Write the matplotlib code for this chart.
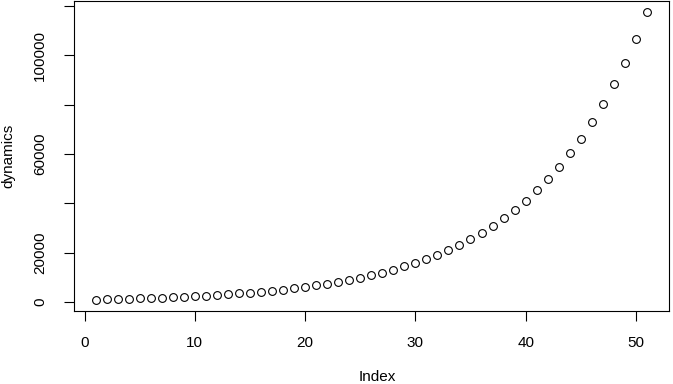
import matplotlib
matplotlib.use("Agg")
import matplotlib.pyplot as plt

index = list(range(1, 52))
dynamics = [1000, 1100, 1210, 1331, 1464, 1611, 1772, 1949, 2144, 2358,
            2594, 2853, 3138, 3452, 3797, 4177, 4595, 5054, 5560, 6116,
            6727, 7400, 8140, 8954, 9850, 10835, 11918, 13110, 14421, 15863,
            17449, 19194, 21114, 23225, 25548, 28102, 30913, 34004, 37404, 41145,
            45259, 49785, 54764, 60240, 66264, 72890, 80180, 88197, 97017, 106719,
            117391]
x_ticks = [0, 10, 20, 30, 40, 50]
y_ticks = [0, 20000, 40000, 60000, 80000, 100000, 120000]
y_tick_labels = ["0", "20000", "", "60000", "", "100000", ""]

plt.rcParams['font.family'] = ['Liberation Sans', 'DejaVu Sans']

W, H = 673, 384
fig = plt.figure(figsize=(W / 100, H / 100), dpi=100)
ax = fig.add_axes([73.5 / W, 1 - 311 / H, (669 - 73.5) / W, (311 - 1) / H])

ax.plot(index, dynamics, linestyle='none', marker='o', markersize=5.6,
        markerfacecolor='none', markeredgecolor='black', markeredgewidth=0.8)

xr = max(index) - min(index)
ax.set_xlim(min(index) - 0.04 * xr, max(index) + 0.04 * xr)
yr = max(dynamics) - min(dynamics)
ax.set_ylim(min(dynamics) - 0.04 * yr, max(dynamics) + 0.04 * yr)

ax.set_xticks(x_ticks)
ax.set_xticklabels([str(t) for t in x_ticks])
ax.set_yticks(y_ticks)
ax.set_yticklabels(y_tick_labels, rotation=90, va='center')

ax.tick_params(axis='both', direction='out', length=7, width=0.8, labelsize=11, colors='black')
ax.tick_params(axis='x', pad=11)
ax.tick_params(axis='y', pad=12)
for s in ax.spines.values():
    s.set_linewidth(0.8)

fig.text(8 / W, 1 - 156 / H, "dynamics", rotation=90, ha='center', va='center', fontsize=11)
fig.text(377 / W, 1 - 377 / H, "Index", ha='center', va='center', fontsize=11)

fig.savefig("out.png", dpi=100)
